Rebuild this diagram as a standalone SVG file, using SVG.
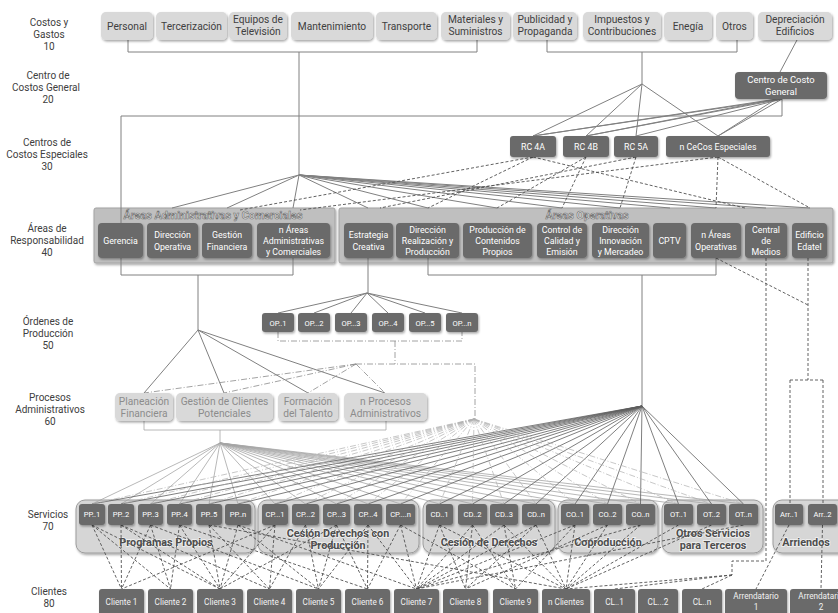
<svg xmlns="http://www.w3.org/2000/svg" width="838" height="613" viewBox="0 0 838 613">
<defs>
<filter id="sh" x="-20%" y="-20%" width="140%" height="150%"><feDropShadow dx="1" dy="1.5" stdDeviation="1" flood-color="#000" flood-opacity="0.35"/></filter>
<style>
text{font-family:Roboto,"Open Sans","DejaVu Sans",sans-serif;text-anchor:middle}
.lv{font-size:10px;fill:#404040}
.lb{fill:#d9d9d9;filter:url(#sh)}
.db{fill:#6a6a6a;filter:url(#sh)}
.ac{fill:#bfbfbf;stroke:#a3a3a3;stroke-width:1;filter:url(#sh)}
.sc{fill:#d6d6d6;stroke:#9c9c9c;stroke-width:1;filter:url(#sh)}
.t1{font-size:10.2px;fill:#404040}
.tg{font-size:10.2px;fill:#8c8c8c}
.tw{font-size:8.8px;fill:#fff}
.ts{font-size:7.6px;fill:#fff}
.tc{font-size:8.2px;fill:#f2f2f2}
.at{font-size:10.8px;font-weight:bold;fill:#e6e6e6;stroke:#6e6e6e;stroke-width:0.6}
.st{font-size:10.8px;font-weight:bold;fill:#4d4d4d;stroke:#f2f2f2;stroke-width:1.6;paint-order:stroke}
.c1{fill:none;stroke:#808080;stroke-width:1}
.c2{fill:none;stroke:#a6a6a6;stroke-width:0.8}
.c3{fill:none;stroke:#5e5e5e;stroke-width:0.8}
.c4{fill:none;stroke:#505050;stroke-width:0.9;stroke-dasharray:3 2}
.c5{fill:none;stroke:#8c8c8c;stroke-width:0.8;stroke-dasharray:6 2 1 2}
.c6{fill:none;stroke:#b0b0b0;stroke-width:0.7;stroke-dasharray:6 2 1 2}
</style>
</defs>
<rect width="838" height="613" fill="#fff"/>

<g id="levels">
<text class="lv" x="49" y="25.5">Costos y</text><text class="lv" x="49" y="37.5">Gastos</text><text class="lv" x="49" y="49.5">10</text>
<text class="lv" x="48" y="79">Centro de</text><text class="lv" x="46" y="91">Costos General</text><text class="lv" x="48" y="103">20</text>
<text class="lv" x="47" y="146">Centros de</text><text class="lv" x="47" y="158">Costos Especiales</text><text class="lv" x="47" y="170">30</text>
<text class="lv" x="47" y="232">Áreas de</text><text class="lv" x="47" y="244">Responsabilidad</text><text class="lv" x="47" y="256">40</text>
<text class="lv" x="48" y="325">Órdenes de</text><text class="lv" x="48" y="337">Producción</text><text class="lv" x="48" y="349">50</text>
<text class="lv" x="50" y="401">Procesos</text><text class="lv" x="50" y="413">Administrativos</text><text class="lv" x="50" y="425">60</text>
<text class="lv" x="48" y="518">Servicios</text><text class="lv" x="48" y="530">70</text>
<text class="lv" x="49" y="595">Clientes</text><text class="lv" x="49" y="607">80</text>
</g>

<!-- containers -->
<g id="areas-admin"><rect class="ac" x="94" y="208" width="241" height="55" rx="2"/><text class="at" x="213" y="219">Áreas Administrativas y Comerciales</text></g>
<g id="areas-operativas"><rect class="ac" x="339" y="208" width="494" height="55" rx="2"/><text class="at" x="587" y="219">Áreas Operativas</text></g>
<g id="programas-propios"><rect class="sc" x="76" y="500" width="179" height="53" rx="9"/><text class="st" x="166" y="546">Programas Propios</text></g>
<g id="cesion-derechos-produccion"><rect class="sc" x="258" y="500" width="161" height="53" rx="9"/><text class="st" x="338" y="537">Cesión Derechos con</text><text class="st" x="338" y="549">Producción</text></g>
<g id="cesion-derechos"><rect class="sc" x="423" y="500" width="132" height="53" rx="9"/><text class="st" x="489" y="546">Cesión de Derechos</text></g>
<g id="coproduccion"><rect class="sc" x="558" y="500" width="100" height="53" rx="9"/><text class="st" x="608" y="546">Coproducción</text></g>
<g id="otros-servicios"><rect class="sc" x="662" y="500" width="101" height="53" rx="9"/><text class="st" x="713" y="537">Otros Servicios</text><text class="st" x="713" y="549">para Terceros</text></g>
<g id="arriendos"><rect class="sc" x="773" y="500" width="75" height="53" rx="9"/><text class="st" x="806" y="546">Arriendos</text></g>

<g id="connectors">
<path class="c1" d="M128 40V52H477V40M299 52V175M547 40V52H737V40M642 52V84M797 40L780 72M782 99V116H121V223M121 258V275H293V258M198 275V330M368 258V293M428 258V275H716V258M642 275V406"/>
<path class="c1" d="M642 84L533 136M642 84L586 136M642 84L636 136M642 84L718 136M782 99L533 136M777 99L533 136M782 99L586 136M777 99L586 136M782 99L636 136M782 99L718 136M776 99L718 136"/>
<path class="c1" d="M299 175L172 208M299 175L227 208M299 175L293 208M299 175L368 208M299 175L428 208M299 175L497 208M299 175L562 208M299 175L620 208M299 175L670 208M299 175L716 208M299 175L766 208M299 175L810 208"/>
<path class="c1" d="M367 293L278 313M367 293L314 313M367 293L351 313M367 293L388 313M367 293L425 313M367 293L462 313M198 330L144 393M198 330L224 393M198 330L308 393M198 330L385 393"/>
<path class="c2" d="M144 421V430H386V421M220 430V443M220 443L92 504M220 443L121 504M220 443L150.5 504M220 443L179.5 504M220 443L209 504M220 443L238 504M220 443L275 504M220 443L305.5 504M220 443L336.5 504M220 443L368 504M220 443L400.5 504M220 443L439.5 504M220 443L472.5 504M220 443L504 504M220 443L536 504M220 443L575 504M220 443L607.5 504M220 443L640.5 504M220 443L678.5 504M220 443L711.5 504M220 443L743.5 504"/>
<path class="c3" d="M642 406L92 504M642 406L121 504M642 406L150.5 504M642 406L179.5 504M642 406L209 504M642 406L238 504M642 406L275 504M642 406L305.5 504M642 406L336.5 504M642 406L368 504M642 406L400.5 504M642 406L439.5 504M642 406L472.5 504M642 406L504 504M642 406L536 504M642 406L575 504M642 406L607.5 504M642 406L640.5 504M642 406L678.5 504M642 406L711.5 504M642 406L743.5 504"/>
<path class="c6" d="M474 419L92 504M474 419L121 504M474 419L150.5 504M474 419L179.5 504M474 419L209 504M474 419L238 504M474 419L275 504M474 419L305.5 504M474 419L336.5 504M474 419L368 504M474 419L400.5 504M474 419L439.5 504M474 419L472.5 504M474 419L504 504M474 419L536 504M474 419L575 504M474 419L607.5 504M474 419L640.5 504M474 419L678.5 504M474 419L711.5 504M474 419L743.5 504"/>
<path class="c5" d="M278 332V341H462V332M395 341V364M356 364H475V419M356 364L144 393M356 364L224 393M356 364L308 393M356 364L385 393"/>
<path class="c4" d="M533 157L240 210M533 157L428 208M533 157L745 208M586 157L497 208M586 157L562 208M636 157L620 208M636 157L380 208M718 157L716 208M718 157L300 210M718 157L810 208"/>
<path class="c4" d="M716 258L808 305M766 258V561H732V575M732 575L566 589M732 575L614.5 589M732 575L702 589M808 258V380M790 380H823M790 380V504M823 380V504"/>
<path class="c4" d="M92 525L121.5 589M92 525L170.5 589M92 525L220 589M121 525L121.5 589M121 525L220 589M121 525L269.5 589M150.5 525L121.5 589M150.5 525L170.5 589M150.5 525L318.5 589M179.5 525L170.5 589M179.5 525L220 589M179.5 525L367.5 589M209 525L220 589M209 525L269.5 589M209 525L566 589M238 525L220 589M238 525L318.5 589M238 525L416.5 589M275 525L220 589M275 525L269.5 589M275 525L121.5 589M305.5 525L269.5 589M305.5 525L318.5 589M336.5 525L318.5 589M336.5 525L367.5 589M336.5 525L220 589M368 525L318.5 589M368 525L367.5 589M368 525L416.5 589M400.5 525L367.5 589M400.5 525L416.5 589M400.5 525L515.5 589M439.5 525L416.5 589M439.5 525L465.5 589M439.5 525L566 589M472.5 525L416.5 589M472.5 525L465.5 589M472.5 525L515.5 589M504 525L416.5 589M504 525L515.5 589M504 525L566 589M536 525L465.5 589M536 525L566 589M536 525L416.5 589M575 525L416.5 589M575 525L515.5 589M575 525L566 589M607.5 525L566 589M607.5 525L465.5 589M640.5 525L566 589M640.5 525L416.5 589M678.5 525L566 589M711.5 525L566 589M743.5 525L416.5 589M789 525L756 589M822.5 525L821 589"/>
</g>

<!-- Costos y Gastos -->
<g id="personal"><rect class="lb" x="101" y="12" width="52" height="28" rx="5"/><text class="t1" x="127" y="30">Personal</text></g>
<g id="tercerizacion"><rect class="lb" x="156" y="12" width="71" height="28" rx="5"/><text class="t1" x="191.5" y="30">Tercerización</text></g>
<g id="equipos"><rect class="lb" x="229" y="12" width="58" height="28" rx="5"/><text class="t1" x="258" y="23">Equipos de</text><text class="t1" x="258" y="35">Televisión</text></g>
<g id="mantenimiento"><rect class="lb" x="291" y="12" width="82" height="28" rx="5"/><text class="t1" x="332" y="30">Mantenimiento</text></g>
<g id="transporte"><rect class="lb" x="376" y="12" width="61" height="28" rx="5"/><text class="t1" x="406.5" y="30">Transporte</text></g>
<g id="materiales"><rect class="lb" x="441" y="12" width="69" height="28" rx="5"/><text class="t1" x="475.5" y="23">Materiales y</text><text class="t1" x="475.5" y="35">Suministros</text></g>
<g id="publicidad"><rect class="lb" x="513" y="12" width="64" height="28" rx="5"/><text class="t1" x="545" y="23">Publicidad y</text><text class="t1" x="545" y="35">Propaganda</text></g>
<g id="impuestos"><rect class="lb" x="583" y="12" width="78" height="28" rx="5"/><text class="t1" x="622" y="23">Impuestos y</text><text class="t1" x="622" y="35">Contribuciones</text></g>
<g id="energia"><rect class="lb" x="664" y="12" width="48" height="28" rx="5"/><text class="t1" x="688" y="30">Enegía</text></g>
<g id="otros"><rect class="lb" x="716" y="12" width="37" height="28" rx="5"/><text class="t1" x="734.5" y="30">Otros</text></g>
<g id="depreciacion"><rect class="lb" x="758" y="12" width="74" height="28" rx="5"/><text class="t1" x="795" y="23">Depreciación</text><text class="t1" x="795" y="35">Edificios</text></g>

<!-- Centro de costo general -->
<g id="centro-costo-general"><rect class="db" x="735" y="72" width="92" height="27" rx="4"/><text class="tw" x="781" y="83" style="font-size:9.4px">Centro de Costo</text><text class="tw" x="781" y="95" style="font-size:9.4px">General</text></g>

<!-- Centros de costos especiales -->
<g id="rc4a"><rect class="db" x="510" y="136" width="46" height="21" rx="3"/><text class="tw" x="533" y="150">RC 4A</text></g>
<g id="rc4b"><rect class="db" x="563" y="136" width="46" height="21" rx="3"/><text class="tw" x="586" y="150">RC 4B</text></g>
<g id="rc5a"><rect class="db" x="614" y="136" width="44" height="21" rx="3"/><text class="tw" x="636" y="150">RC 5A</text></g>
<g id="n-cecos"><rect class="db" x="666" y="136" width="104" height="21" rx="3"/><text class="tw" x="718" y="150">n CeCos Especiales</text></g>

<!-- Areas -->
<g id="gerencia"><rect class="db" x="98" y="223" width="45" height="35" rx="4"/><text class="tw" x="120.5" y="244">Gerencia</text></g>
<g id="direccion-operativa"><rect class="db" x="147" y="223" width="51" height="35" rx="4"/><text class="tw" x="172.5" y="238">Dirección</text><text class="tw" x="172.5" y="250">Operativa</text></g>
<g id="gestion-financiera"><rect class="db" x="202" y="223" width="50" height="35" rx="4"/><text class="tw" x="227" y="238">Gestión</text><text class="tw" x="227" y="250">Financiera</text></g>
<g id="n-areas-admin"><rect class="db" x="257" y="223" width="73" height="35" rx="4"/><text class="tw" x="293.5" y="233">n Áreas</text><text class="tw" x="293.5" y="244">Administrativas</text><text class="tw" x="293.5" y="255">y Comerciales</text></g>
<g id="estrategia-creativa"><rect class="db" x="344" y="223" width="49" height="35" rx="4"/><text class="tw" x="368.5" y="238">Estrategia</text><text class="tw" x="368.5" y="250">Creativa</text></g>
<g id="direccion-realizacion"><rect class="db" x="396" y="223" width="63" height="35" rx="4"/><text class="tw" x="427.5" y="233">Dirección</text><text class="tw" x="427.5" y="244">Realización y</text><text class="tw" x="427.5" y="255">Producción</text></g>
<g id="produccion-contenidos"><rect class="db" x="463" y="223" width="69" height="35" rx="4"/><text class="tw" x="497.5" y="233">Producción de</text><text class="tw" x="497.5" y="244">Contenidos</text><text class="tw" x="497.5" y="255">Propios</text></g>
<g id="control-calidad"><rect class="db" x="537" y="223" width="50" height="35" rx="4"/><text class="tw" x="562" y="233">Control de</text><text class="tw" x="562" y="244">Calidad y</text><text class="tw" x="562" y="255">Emisión</text></g>
<g id="direccion-innovacion"><rect class="db" x="592" y="223" width="57" height="35" rx="4"/><text class="tw" x="620.5" y="233">Dirección</text><text class="tw" x="620.5" y="244">Innovación</text><text class="tw" x="620.5" y="255">y Mercadeo</text></g>
<g id="cptv"><rect class="db" x="653" y="223" width="33" height="35" rx="4"/><text class="tw" x="669.5" y="244">CPTV</text></g>
<g id="n-areas-operativas"><rect class="db" x="691" y="223" width="50" height="35" rx="4"/><text class="tw" x="716" y="238">n Áreas</text><text class="tw" x="716" y="250">Operativas</text></g>
<g id="central-medios"><rect class="db" x="745" y="223" width="42" height="35" rx="4"/><text class="tw" x="766" y="233">Central</text><text class="tw" x="766" y="244">de</text><text class="tw" x="766" y="255">Medios</text></g>
<g id="edificio-edatel"><rect class="db" x="792" y="223" width="35" height="35" rx="4"/><text class="tw" x="809.5" y="238">Edificio</text><text class="tw" x="809.5" y="250">Edatel</text></g>

<!-- Ordenes de produccion -->
<g id="op1"><rect class="db" x="262" y="313" width="32" height="19" rx="3"/><text class="ts" x="278" y="325.5">OP..1</text></g>
<g id="op2"><rect class="db" x="298" y="313" width="32" height="19" rx="3"/><text class="ts" x="314" y="325.5">OP...2</text></g>
<g id="op3"><rect class="db" x="335" y="313" width="32" height="19" rx="3"/><text class="ts" x="351" y="325.5">OP...3</text></g>
<g id="op4"><rect class="db" x="372" y="313" width="32" height="19" rx="3"/><text class="ts" x="388" y="325.5">OP...4</text></g>
<g id="op5"><rect class="db" x="409" y="313" width="32" height="19" rx="3"/><text class="ts" x="425" y="325.5">OP...5</text></g>
<g id="opn"><rect class="db" x="446" y="313" width="32" height="19" rx="3"/><text class="ts" x="462" y="325.5">OP...n</text></g>

<!-- Procesos administrativos -->
<g id="planeacion"><rect class="lb" x="115" y="393" width="58" height="28" rx="5"/><text class="tg" x="144" y="405">Planeación</text><text class="tg" x="144" y="417">Financiera</text></g>
<g id="gestion-clientes"><rect class="lb" x="176" y="393" width="97" height="28" rx="5"/><text class="tg" x="224.5" y="405">Gestión de Clientes</text><text class="tg" x="224.5" y="417">Potenciales</text></g>
<g id="formacion"><rect class="lb" x="278" y="393" width="60" height="28" rx="5"/><text class="tg" x="308" y="405">Formación</text><text class="tg" x="308" y="417">del Talento</text></g>
<g id="n-procesos"><rect class="lb" x="344" y="393" width="83" height="28" rx="5"/><text class="tg" x="385.5" y="405">n Procesos</text><text class="tg" x="385.5" y="417">Administrativos</text></g>

<!-- Servicios -->
<g id="pp1"><rect class="db" x="79" y="504" width="26" height="21" rx="3"/><text class="ts" x="92" y="517">PP..1</text></g>
<g id="pp2"><rect class="db" x="108" y="504" width="26" height="21" rx="3"/><text class="ts" x="121" y="517">PP..2</text></g>
<g id="pp3"><rect class="db" x="138" y="504" width="25" height="21" rx="3"/><text class="ts" x="150.5" y="517">PP..3</text></g>
<g id="pp4"><rect class="db" x="167" y="504" width="25" height="21" rx="3"/><text class="ts" x="179.5" y="517">PP..4</text></g>
<g id="pp5"><rect class="db" x="196" y="504" width="26" height="21" rx="3"/><text class="ts" x="209" y="517">PP..5</text></g>
<g id="ppn"><rect class="db" x="225" y="504" width="26" height="21" rx="3"/><text class="ts" x="238" y="517">PP..n</text></g>
<g id="cp1"><rect class="db" x="262" y="504" width="26" height="21" rx="3"/><text class="ts" x="275" y="517">CP...1</text></g>
<g id="cp2"><rect class="db" x="292" y="504" width="27" height="21" rx="3"/><text class="ts" x="305.5" y="517">CP...2</text></g>
<g id="cp3"><rect class="db" x="323" y="504" width="27" height="21" rx="3"/><text class="ts" x="336.5" y="517">CP...3</text></g>
<g id="cp4"><rect class="db" x="354" y="504" width="28" height="21" rx="3"/><text class="ts" x="368" y="517">CP...4</text></g>
<g id="cpn"><rect class="db" x="386" y="504" width="29" height="21" rx="3"/><text class="ts" x="400.5" y="517">CP....n</text></g>
<g id="cd1"><rect class="db" x="426" y="504" width="27" height="21" rx="3"/><text class="ts" x="439.5" y="517">CD..1</text></g>
<g id="cd2"><rect class="db" x="458" y="504" width="29" height="21" rx="3"/><text class="ts" x="472.5" y="517">CD..2</text></g>
<g id="cd3"><rect class="db" x="490" y="504" width="28" height="21" rx="3"/><text class="ts" x="504" y="517">CD..3</text></g>
<g id="cdn"><rect class="db" x="522" y="504" width="28" height="21" rx="3"/><text class="ts" x="536" y="517">CD..n</text></g>
<g id="co1"><rect class="db" x="561" y="504" width="28" height="21" rx="3"/><text class="ts" x="575" y="517">CO..1</text></g>
<g id="co2"><rect class="db" x="593" y="504" width="29" height="21" rx="3"/><text class="ts" x="607.5" y="517">CO..2</text></g>
<g id="con"><rect class="db" x="626" y="504" width="29" height="21" rx="3"/><text class="ts" x="640.5" y="517">CO..n</text></g>
<g id="ot1"><rect class="db" x="664" y="504" width="29" height="21" rx="3"/><text class="ts" x="678.5" y="517">OT..1</text></g>
<g id="ot2"><rect class="db" x="697" y="504" width="29" height="21" rx="3"/><text class="ts" x="711.5" y="517">OT..2</text></g>
<g id="otn"><rect class="db" x="729" y="504" width="29" height="21" rx="3"/><text class="ts" x="743.5" y="517">OT..n</text></g>
<g id="arr1"><rect class="db" x="775" y="504" width="28" height="21" rx="3"/><text class="ts" x="789" y="517">Arr..1</text></g>
<g id="arr2"><rect class="db" x="808" y="504" width="29" height="21" rx="3"/><text class="ts" x="822.5" y="517">Arr..2</text></g>

<!-- Clientes -->
<g id="cliente1"><rect class="db" x="99" y="589" width="45" height="30" rx="3"/><text class="tc" x="121.5" y="605">Cliente 1</text></g>
<g id="cliente2"><rect class="db" x="148" y="589" width="45" height="30" rx="3"/><text class="tc" x="170.5" y="605">Cliente 2</text></g>
<g id="cliente3"><rect class="db" x="197" y="589" width="46" height="30" rx="3"/><text class="tc" x="220" y="605">Cliente 3</text></g>
<g id="cliente4"><rect class="db" x="247" y="589" width="45" height="30" rx="3"/><text class="tc" x="269.5" y="605">Cliente 4</text></g>
<g id="cliente5"><rect class="db" x="296" y="589" width="45" height="30" rx="3"/><text class="tc" x="318.5" y="605">Cliente 5</text></g>
<g id="cliente6"><rect class="db" x="345" y="589" width="45" height="30" rx="3"/><text class="tc" x="367.5" y="605">Cliente 6</text></g>
<g id="cliente7"><rect class="db" x="394" y="589" width="45" height="30" rx="3"/><text class="tc" x="416.5" y="605">Cliente 7</text></g>
<g id="cliente8"><rect class="db" x="443" y="589" width="45" height="30" rx="3"/><text class="tc" x="465.5" y="605">Cliente 8</text></g>
<g id="cliente9"><rect class="db" x="493" y="589" width="45" height="30" rx="3"/><text class="tc" x="515.5" y="605">Cliente 9</text></g>
<g id="n-clientes"><rect class="db" x="542" y="589" width="48" height="30" rx="3"/><text class="tc" x="566" y="605">n Clientes</text></g>
<g id="cl1"><rect class="db" x="594" y="589" width="41" height="30" rx="3"/><text class="tc" x="614.5" y="605">CL..1</text></g>
<g id="cl2"><rect class="db" x="638" y="589" width="40" height="30" rx="3"/><text class="tc" x="658" y="605">CL...2</text></g>
<g id="cln"><rect class="db" x="682" y="589" width="40" height="30" rx="3"/><text class="tc" x="702" y="605">CL..n</text></g>
<g id="arrendatario1"><rect class="db" x="725" y="589" width="62" height="30" rx="3"/><text class="tc" x="756" y="599">Arrendatario</text><text class="tc" x="756" y="610">1</text></g>
<g id="arrendatario2"><rect class="db" x="790" y="589" width="62" height="30" rx="3"/><text class="tc" x="821" y="599">Arrendatario</text><text class="tc" x="821" y="610">2</text></g>
</svg>
